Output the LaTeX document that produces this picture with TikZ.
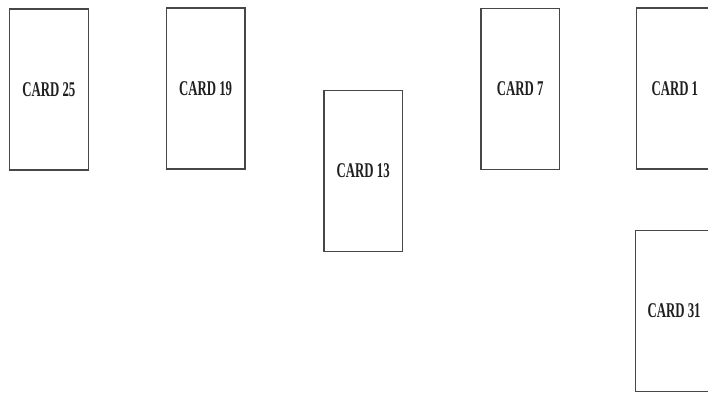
\documentclass[tikz,border=0pt]{standalone}
\usepackage{fontspec}
\usepackage{graphicx}
\setmainfont{Liberation Serif}
\newcommand\cardlabel[1]{\scalebox{0.61}[1]{#1}}
\begin{document}
\begin{tikzpicture}[x=1pt,y=-1pt,
  card/.style={draw=black!72, line width=1.2pt, rectangle, minimum width=78.5pt,
    minimum height=161pt, inner sep=0pt, anchor=north west,
    font=\fontsize{21}{21}\selectfont\bfseries, text=black!88}]
\useasboundingbox (0,0) rectangle (708,394);
\fill[white] (0,0) rectangle (708,394);
\clip (0,0) rectangle (708,394);
\node[card] (c25) at (9,8.3) {\cardlabel{CARD 25}};
\node[card] (c19) at (165.8,7.3) {\cardlabel{CARD 19}};
\node[card] (c13) at (323.3,90) {\cardlabel{CARD 13}};
\node[card] (c7) at (480.3,8) {\cardlabel{CARD 7}};
\node[card, minimum width=77pt] (c1) at (635.7,7.3) {\cardlabel{CARD 1}};
\node[card, minimum width=77pt, minimum height=160.5pt] (c31) at (635,230) {\cardlabel{CARD 31}};
\end{tikzpicture}
\end{document}
